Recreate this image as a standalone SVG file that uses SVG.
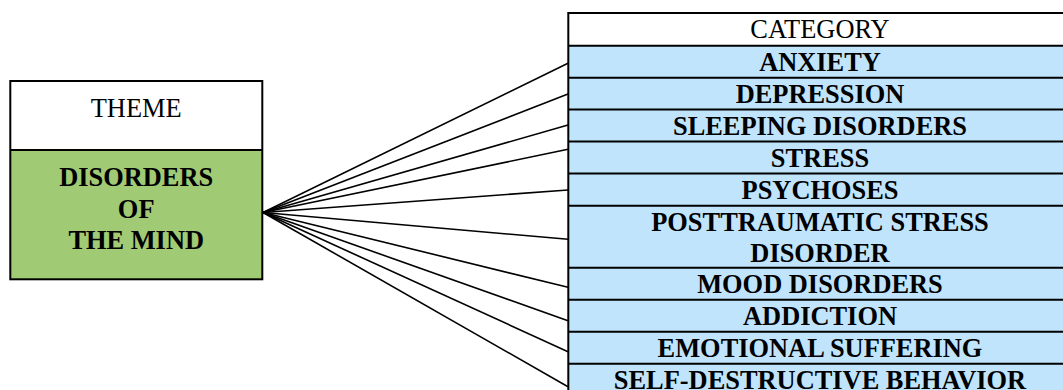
<svg xmlns="http://www.w3.org/2000/svg" width="1063" height="390" viewBox="0 0 1063 390">
<style>
.t{font-family:"Liberation Serif","Times New Roman",serif;font-size:26.4px;fill:#000;text-anchor:middle}
.b{font-weight:bold}
.cell{fill:#C1E4FD}
.ln{stroke:#000;stroke-width:2;fill:none}
.fan{stroke:#000;stroke-width:1.6;fill:none}
</style>
<rect width="1063" height="390" fill="#fff"/>
<g id="theme">
<rect x="10.3" y="81" width="252" height="69" fill="#fff"/>
<rect x="10.3" y="150" width="252" height="129.3" fill="#A0CB74"/>
<rect x="10.3" y="81" width="252" height="198.3" class="ln"/>
<line x1="10.3" y1="150" x2="262.3" y2="150" class="ln"/>
<text class="t" x="136.2" y="116.7">THEME</text>
<text class="t b" x="136.2" y="185.7">DISORDERS</text>
<text class="t b" x="136.2" y="217.7">OF</text>
<text class="t b" x="136.2" y="249">THE MIND</text>
</g>
<g id="connectors">
<line class="fan" x1="263" y1="212.5" x2="568" y2="63.3"/>
<line class="fan" x1="263" y1="212.5" x2="568" y2="94"/>
<line class="fan" x1="263" y1="212.5" x2="568" y2="125"/>
<line class="fan" x1="263" y1="212.5" x2="568" y2="149.3"/>
<line class="fan" x1="263" y1="212.5" x2="568" y2="190"/>
<line class="fan" x1="263" y1="212.5" x2="568" y2="239.3"/>
<line class="fan" x1="263" y1="212.5" x2="568" y2="287.3"/>
<line class="fan" x1="263" y1="212.5" x2="568" y2="320.7"/>
<line class="fan" x1="263" y1="212.5" x2="568" y2="351.7"/>
<line class="fan" x1="263" y1="212.5" x2="568" y2="386.7"/>
</g>
<g id="category">
<rect x="568.3" y="13" width="510" height="32.7" fill="#fff"/>
<rect x="568.3" y="45.7" width="510" height="360" class="cell"/>
<line x1="568.3" y1="13" x2="1070" y2="13" class="ln"/>
<line x1="568.3" y1="45.7" x2="1070" y2="45.7" class="ln"/>
<line x1="568.3" y1="77.7" x2="1070" y2="77.7" class="ln"/>
<line x1="568.3" y1="109.5" x2="1070" y2="109.5" class="ln"/>
<line x1="568.3" y1="141.6" x2="1070" y2="141.6" class="ln"/>
<line x1="568.3" y1="173.4" x2="1070" y2="173.4" class="ln"/>
<line x1="568.3" y1="205.7" x2="1070" y2="205.7" class="ln"/>
<line x1="568.3" y1="267.7" x2="1070" y2="267.7" class="ln"/>
<line x1="568.3" y1="299.7" x2="1070" y2="299.7" class="ln"/>
<line x1="568.3" y1="331.7" x2="1070" y2="331.7" class="ln"/>
<line x1="568.3" y1="363.7" x2="1070" y2="363.7" class="ln"/>
<line x1="568.3" y1="12" x2="568.3" y2="400" class="ln"/>
<text class="t" x="820" y="37.7">CATEGORY</text>
<text class="t b" x="820" y="71">ANXIETY</text>
<text class="t b" x="820" y="102.5">DEPRESSION</text>
<text class="t b" x="820" y="134.8">SLEEPING DISORDERS</text>
<text class="t b" x="820" y="166.6">STRESS</text>
<text class="t b" x="820" y="198.5">PSYCHOSES</text>
<text class="t b" x="820" y="230.7">POSTTRAUMATIC STRESS</text>
<text class="t b" x="820" y="261.7">DISORDER</text>
<text class="t b" x="820" y="293.3">MOOD DISORDERS</text>
<text class="t b" x="820" y="325">ADDICTION</text>
<text class="t b" x="820" y="357.3">EMOTIONAL SUFFERING</text>
<text class="t b" x="820" y="389.3">SELF-DESTRUCTIVE BEHAVIOR</text>
</g>
</svg>
